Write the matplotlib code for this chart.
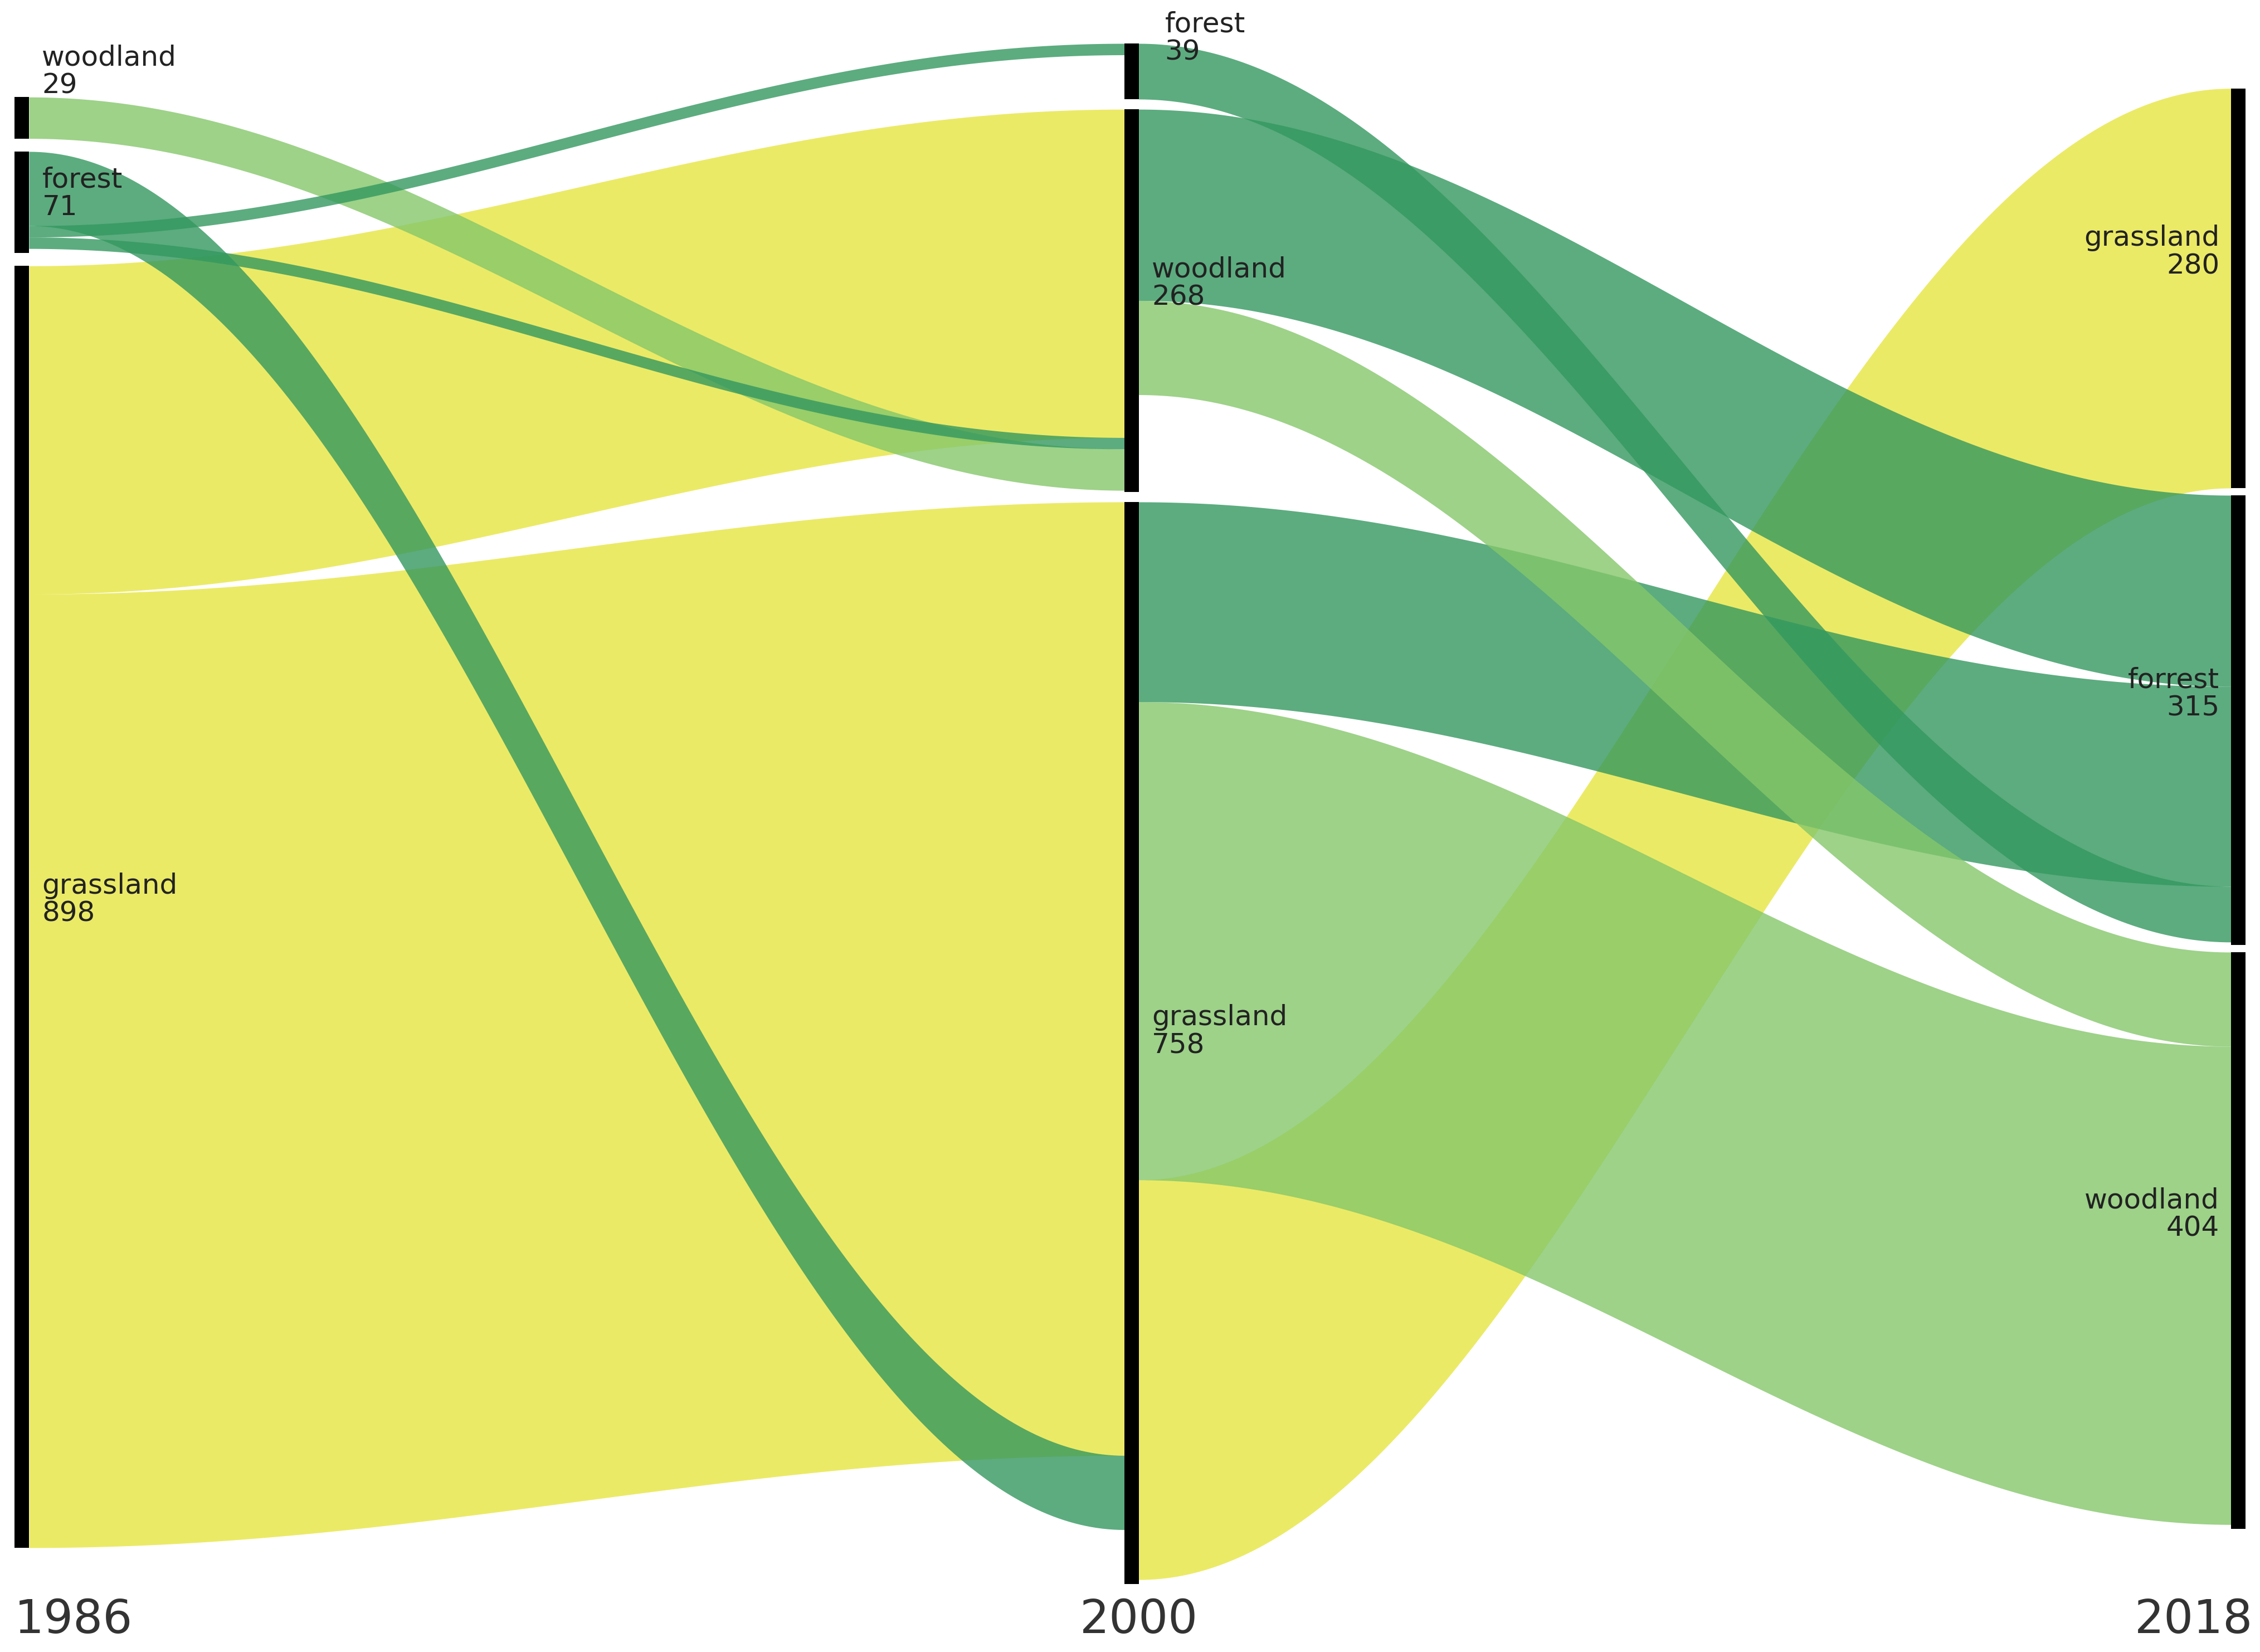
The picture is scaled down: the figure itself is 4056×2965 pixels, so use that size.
import numpy as np
import matplotlib.pyplot as plt

years = ["1986", "2000", "2018"]
node_names = [["woodland", "forest", "grassland"],
              ["forest", "woodland", "grassland"],
              ["grassland", "forrest", "woodland"]]
node_values = [[29, 71, 898],
               [39, 268, 758],
               [280, 315, 404]]

# flows: (source index, target index, value, colour key)
flows_1986 = [(0, 1, 29, "woodland"),
              (1, 2, 52, "forest"),
              (1, 0, 8, "forest"),
              (1, 1, 8, "forest"),
              (2, 1, 230, "grassland"),
              (2, 2, 668, "grassland")]
flows_2000 = [(0, 1, 39, "forest"),
              (1, 1, 134, "forest"),
              (1, 2, 66, "woodland"),
              (2, 1, 140, "forest"),
              (2, 2, 335, "woodland"),
              (2, 0, 280, "grassland")]
# order of incoming flows at each target node (indices into flow list)
target_order_1986 = {0: [2], 1: [4, 3, 0], 2: [5, 1]}
target_order_2000 = {0: [5], 1: [1, 3, 0], 2: [2, 4]}
# drawing order (last one on top)
draw_order_1986 = [5, 4, 0, 3, 2, 1]
draw_order_2000 = [5, 4, 3, 2, 1, 0]

colors = {"grassland": "#e6e540", "woodland": "#85c76a", "forest": "#33985f"}

k = 0.985
col_x = [10, 776, 1540]
bar_w = 10
col_top = [67, 30, 61]
gaps = [9, 7, 5]
label_shift = [[-32, -6, -5], [-23, -12, -8], [-25, -18, -18]]

node_tops = []
for c in range(3):
    tops = []
    y = col_top[c]
    for v in node_values[c]:
        tops.append(y)
        y += v * k + gaps[c]
    node_tops.append(tops)

fig = plt.figure(figsize=(4056 / 300, 2965 / 300), dpi=300)
ax = fig.add_axes([0, 0, 1, 1])
ax.set_xlim(0, 1560)
ax.set_ylim(1140, 0)
ax.axis("off")


def draw_flows(c, flows, target_order, draw_order):
    x0 = col_x[c] + bar_w
    x1 = col_x[c + 1]
    src_off = [0.0] * 3
    src_pos = []
    for s, t, v, ck in flows:
        src_pos.append(node_tops[c][s] + src_off[s])
        src_off[s] += v * k
    tgt_pos = {}
    for t, idxs in target_order.items():
        off = 0.0
        for i in idxs:
            tgt_pos[i] = node_tops[c + 1][t] + off
            off += flows[i][2] * k
    xs = np.linspace(x0, x1, 200)
    sm = (1 - np.cos(np.linspace(0, np.pi, 200))) / 2
    for i in draw_order:
        s, t, v, ck = flows[i]
        ya, yb = src_pos[i], tgt_pos[i]
        top = ya + (yb - ya) * sm
        ax.fill_between(xs, top, top + v * k, color=colors[ck], alpha=0.8, lw=0)


draw_flows(0, flows_1986, target_order_1986, draw_order_1986)
draw_flows(1, flows_2000, target_order_2000, draw_order_2000)

for c in range(3):
    for j, (name, v, top) in enumerate(zip(node_names[c], node_values[c], node_tops[c])):
        ax.add_patch(plt.Rectangle((col_x[c], top), bar_w, v * k, color="black", lw=0))
        ymid = top + v * k / 2 + label_shift[c][j]
        if c < 2:
            dx = 18 if (c == 1 and j == 0) else 9
            ax.text(col_x[c] + bar_w + dx, ymid, f"{name}\n{v}", ha="left", va="center",
                    fontsize=12, color="#222222", linespacing=1.05)
        else:
            ax.text(col_x[c] - 8, ymid, f"{name}\n{v}", ha="right", va="center",
                    fontsize=12, color="#222222", linespacing=1.05)

ax.text(10, 1118, years[0], ha="left", va="center", fontsize=20, color="#333333")
ax.text(786, 1118, years[1], ha="center", va="center", fontsize=20, color="#333333")
ax.text(1555, 1118, years[2], ha="right", va="center", fontsize=20, color="#333333")

fig.savefig("out.png", dpi=300)
